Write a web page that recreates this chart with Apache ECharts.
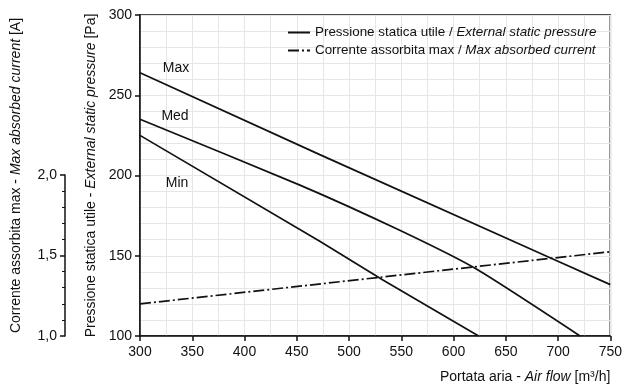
<!DOCTYPE html>
<html>
<head>
<meta charset="utf-8">
<script src="https://cdn.jsdelivr.net/npm/echarts@6/dist/echarts.min.js"></script>
<style>
  html, body { margin: 0; padding: 0; background: #fff; }
  #chart { width: 625px; height: 385px; }
</style>
</head>
<body>
<div id="chart"></div>
<script>
// curve data
const maxFlow = [300, 472, 695, 750];
const maxPress = [264, 213, 148, 132];
const medFlow = [300, 453, 548, 621, 721];
const medPress = [235, 194, 166, 142, 100];
const minFlow = [300, 472, 532, 624];
const minPress = [225, 159, 135, 100];
const currFlow = [300, 750];
const currAmp = [1.20, 1.525];
const curveNames = ['Max', 'Med', 'Min'];
const pressName = 'Pressione statica utile / External static pressure';
const currName = 'Corrente assorbita max / Max absorbed current';

const FONT = "'Liberation Sans', Arial, sans-serif";

function pairs(xs, ys) {
    return xs.map(function (x, i) { return [x, ys[i]]; });
}

const gridLine = { show: true, lineStyle: { color: '#e6e6e6', width: 1 } };
const axisBlack = { show: true, lineStyle: { color: '#111', width: 1.5 } };

function pressureSeries(xs, ys, label, offset, smooth) {
    return {
        name: pressName,
        type: 'line',
        xAxisIndex: 0,
        yAxisIndex: 0,
        data: pairs(xs, ys),
        symbol: 'none',
        smooth: smooth,
        itemStyle: { color: '#111' },
        lineStyle: { color: '#111', width: 1.7 },
        markPoint: {
            symbol: 'circle',
            symbolSize: 0,
            silent: true,
            data: [{
                coord: [xs[0], ys[0]],
                label: {
                    show: true, formatter: label, offset: offset,
                    color: '#111', fontSize: 14, fontFamily: FONT
                }
            }]
        }
    };
}

const chart = echarts.init(document.getElementById('chart'));
const option = {
    backgroundColor: '#fff',
    animation: false,
    textStyle: { fontFamily: FONT, color: '#111' },
    grid: [
        { left: 140, right: 13, top: 15, bottom: 49, show: true, borderColor: '#111', borderWidth: 1.5 },
        { left: 65, width: 10, top: 175, bottom: 49 }
    ],
    legend: {
        orient: 'vertical',
        left: 282,
        top: 21,
        itemGap: 5,
        itemWidth: 22,
        itemHeight: 12,
        itemStyle: { opacity: 0 },
        textStyle: { fontFamily: FONT, fontSize: 13.4, color: '#111' },
        formatter: function (name) {
            const parts = name.split(' / ');
            return parts[0] + ' / {i|' + parts[1] + '}';
        },
        data: [pressName, currName]
    },
    xAxis: [{
        type: 'value',
        gridIndex: 0,
        min: 300, max: 750, interval: 50,
        name: 'Portata aria - {i|Air flow} [m³/h]',
        nameLocation: 'end',
        nameGap: 0,
        nameTextStyle: {
            fontSize: 14, color: '#111', align: 'right', verticalAlign: 'top',
            padding: [34, 0, 0, 0],
            rich: { i: { fontStyle: 'italic', fontSize: 14 } }
        },
        axisLine: axisBlack,
        axisTick: { show: true, length: 5, lineStyle: { color: '#111', width: 1.5 } },
        axisLabel: { fontSize: 14, color: '#111', margin: 9 },
        splitLine: gridLine,
        minorTick: { show: false, splitNumber: 2 },
        minorSplitLine: gridLine
    }, {
        type: 'value',
        gridIndex: 1,
        min: 0, max: 1,
        show: false
    }],
    yAxis: [{
        type: 'value',
        gridIndex: 0,
        min: 100, max: 300, interval: 50,
        name: 'Pressione statica utile - {i|External static pressure} [Pa]',
        nameLocation: 'middle',
        nameGap: 40,
        nameTextStyle: {
            fontSize: 14, color: '#111',
            rich: { i: { fontStyle: 'italic', fontSize: 14 } }
        },
        axisLine: axisBlack,
        axisTick: { show: true, length: 5, lineStyle: { color: '#111', width: 1.5 } },
        axisLabel: { fontSize: 14, color: '#111', margin: 8 },
        splitLine: gridLine,
        minorTick: { show: false, splitNumber: 5 },
        minorSplitLine: gridLine
    }, {
        type: 'value',
        gridIndex: 1,
        position: 'left',
        min: 1, max: 2, interval: 0.5,
        axisLine: { show: true, lineStyle: { color: '#111', width: 1.5 } },
        axisTick: { show: true, length: 5, lineStyle: { color: '#111', width: 1.5 } },
        minorTick: { show: true, splitNumber: 5, length: 3, lineStyle: { color: '#111', width: 1 } },
        axisLabel: {
            fontSize: 14, color: '#111', margin: 8,
            formatter: function (v) { return v.toFixed(1).replace('.', ','); }
        },
        splitLine: { show: false }
    }, {
        // hidden scale for the current line, 1 A per 100 Pa, carries the axis title
        type: 'value',
        gridIndex: 0,
        position: 'left',
        min: 1, max: 3,
        name: 'Corrente assorbita max - {i|Max absorbed current} [A]',
        nameLocation: 'middle',
        nameGap: 117,
        nameTextStyle: {
            fontSize: 14, color: '#111',
            rich: { i: { fontStyle: 'italic', fontSize: 14 } }
        },
        axisLine: { show: false },
        axisTick: { show: false },
        axisLabel: { show: false },
        splitLine: { show: false }
    }],
    series: [
        pressureSeries(maxFlow, maxPress, curveNames[0], [36, -5], false),
        pressureSeries(medFlow, medPress, curveNames[1], [35, -3], 0.2),
        pressureSeries(minFlow, minPress, curveNames[2], [37, 48], false),
        {
            name: currName,
            type: 'line',
            xAxisIndex: 0,
            yAxisIndex: 2,
            data: pairs(currFlow, currAmp),
            symbol: 'none',
            itemStyle: { color: '#111' },
            lineStyle: { color: '#111', width: 1.7, type: [11, 3, 2, 3] }
        }
    ]
};
option.legend.textStyle.rich = { i: { fontStyle: 'italic', fontSize: 13.4, fontFamily: FONT } };
chart.setOption(option);
</script>
</body>
</html>
